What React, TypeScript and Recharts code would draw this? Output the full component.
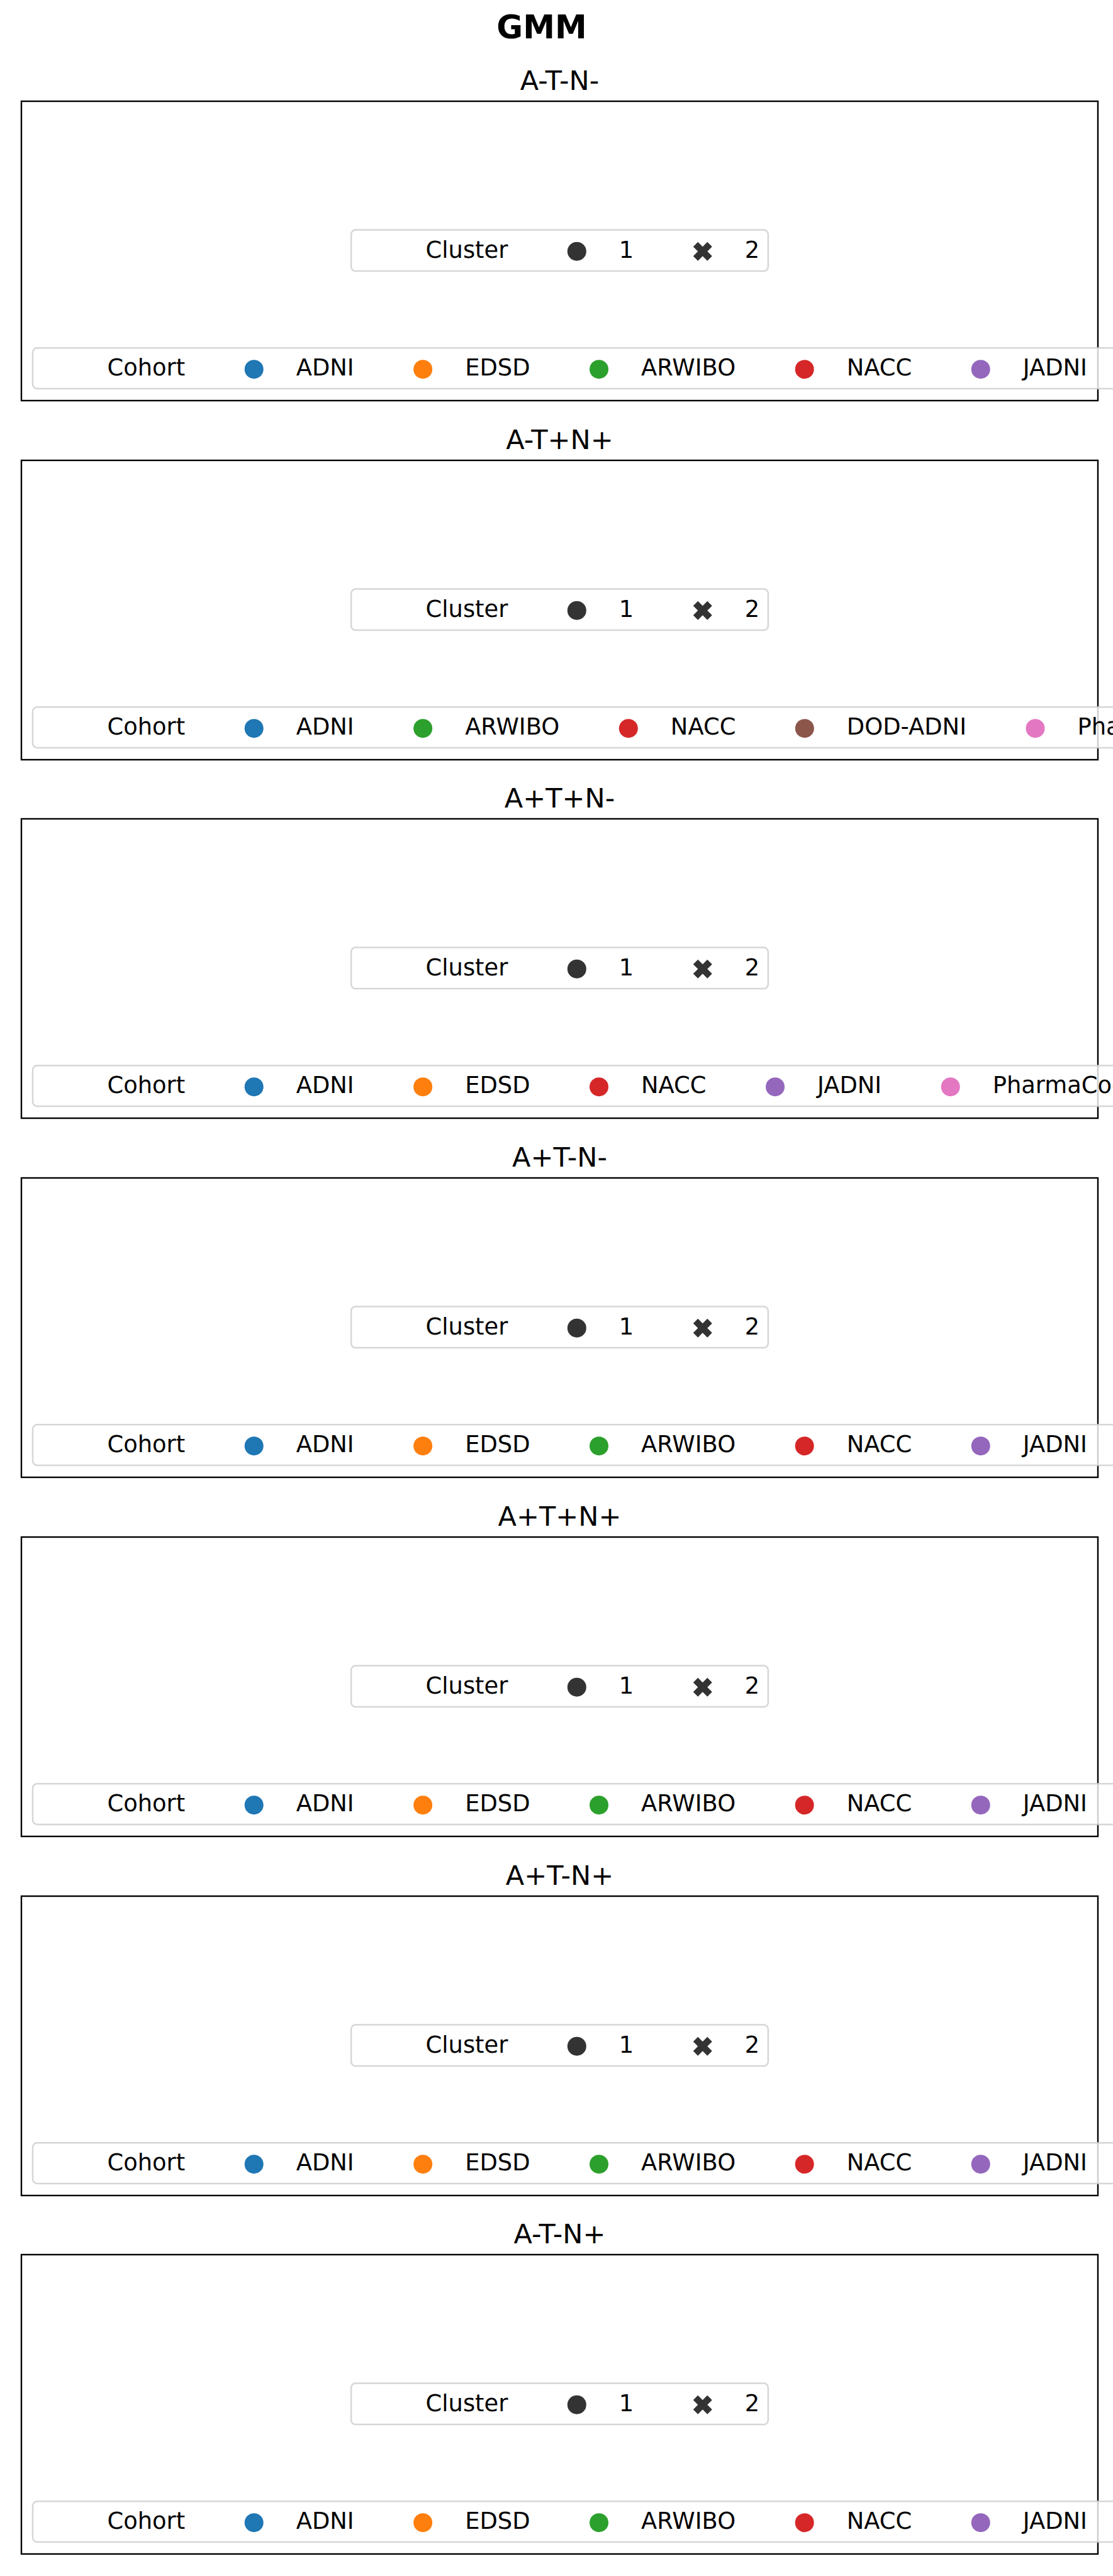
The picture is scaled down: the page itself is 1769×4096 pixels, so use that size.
import React from 'react'
import { ScatterChart, Scatter, XAxis, YAxis, Legend } from 'recharts'

// figure text
const FIG_TITLE = 'GMM'
const panelTitles = ['A-T-N-', 'A-T+N+', 'A+T+N-', 'A+T-N-', 'A+T+N+', 'A+T-N+', 'A-T-N+']

// cohorts shown in each panel legend, in legend order
const panelCohorts = [
  ['ADNI', 'EDSD', 'ARWIBO', 'NACC', 'JADNI'],
  ['ADNI', 'ARWIBO', 'NACC', 'DOD-ADNI', 'PharmaCog'],
  ['ADNI', 'EDSD', 'NACC', 'JADNI', 'PharmaCog'],
  ['ADNI', 'EDSD', 'ARWIBO', 'NACC', 'JADNI'],
  ['ADNI', 'EDSD', 'ARWIBO', 'NACC', 'JADNI'],
  ['ADNI', 'EDSD', 'ARWIBO', 'NACC', 'JADNI'],
  ['ADNI', 'EDSD', 'ARWIBO', 'NACC', 'JADNI'],
]

const cohortColors: Record<string, string> = {
  ADNI: '#1f77b4',
  EDSD: '#ff7f0e',
  ARWIBO: '#2ca02c',
  NACC: '#d62728',
  JADNI: '#9467bd',
  'DOD-ADNI': '#8c564b',
  PharmaCog: '#e377c2',
}

const clusterLabels = ['1', '2']
const clusterShapes = ['circle', 'x']

// the scatter panels are empty in the source figure
const noPoints: { x: number; y: number }[] = []

const W = 1769
const H = 4096
const FONT = '"DejaVu Sans", sans-serif'
const PITCH = 570.7
const CH = 571
const TOP0 = 91
const MARGIN = { top: 70, left: 34, right: 24, bottom: 25 }
const BOX_H = 476
const BOX_W = W - MARGIN.left - MARGIN.right
const CX = MARGIN.left + BOX_W / 2

const LEG_FS = 36.85
const PAD_L = 118.5
const GAP = 109.5
const HANDLE_TXT = 67
const PAD_R = 13.7
const MARK_R = 15

let ctx: CanvasRenderingContext2D | null = null
const textW = (s: string, size = LEG_FS) => {
  if (!ctx) ctx = document.createElement('canvas').getContext('2d')
  if (!ctx) return s.length * size * 0.6
  ctx.font = `${size}px "DejaVu Sans"`
  return ctx.measureText(s).width
}

const layoutLegend = (title: string, labels: string[], left: number) => {
  const titleX = left + PAD_L
  let end = titleX + textW(title)
  const items = labels.map((l) => {
    const mx = end + GAP
    const tx = mx + HANDLE_TXT
    end = tx + textW(l)
    return { mx, tx }
  })
  return { titleX, items, right: end + PAD_R }
}

const XMark = ({ cx, cy, s, fill }: { cx: number; cy: number; s: number; fill: string }) => {
  const pts = [[-1, -2], [0, -1], [1, -2], [2, -1], [1, 0], [2, 1], [1, 2], [0, 1], [-1, 2], [-2, 1], [-1, 0], [-2, -1]]
  const d = pts.map(([x, y], i) => `${i ? 'L' : 'M'}${cx + (x * s) / 4},${cy + (y * s) / 4}`).join('') + 'Z'
  return <path d={d} fill={fill} />
}

const frame = { fill: 'rgba(255,255,255,0.8)', stroke: 'rgba(204,204,204,0.8)', strokeWidth: 2.5 }

const PanelLegend = (props: any) => {
  const { payload, title, cohorts } = props
  const entries = (cohorts as string[]).map((c) => {
    const p = (payload || []).find((q: any) => q.value === c)
    return { label: c, color: (p && p.color) || cohortColors[c] }
  })

  // cluster legend, centred on the axes
  const cl0 = layoutLegend('Cluster', clusterLabels, 0)
  const clLeft = CX - cl0.right / 2
  const cl = layoutLegend('Cluster', clusterLabels, clLeft)
  const clTop = MARGIN.top + 204.6
  const clBot = MARGIN.top + 270.1
  const clMy = MARGIN.top + 238.7

  // cohort legend, anchored lower left, runs past the figure edge
  const coLeft = MARGIN.left + 18
  const co = layoutLegend('Cohort', entries.map((e) => e.label), coLeft)
  const coRight = Math.max(co.right, W + 30)
  const coTop = MARGIN.top + 392.3
  const coBot = MARGIN.top + 456.9
  const coMy = MARGIN.top + 426.2

  return (
    <svg width={W} height={CH} style={{ display: 'block', overflow: 'hidden' }} fontFamily={FONT}>
      <text x={CX} y={MARGIN.top - 18} textAnchor="middle" fontSize={43}>
        {title}
      </text>
      <rect x={MARGIN.left} y={MARGIN.top} width={BOX_W} height={BOX_H} fill="none" stroke="#000" strokeWidth={2.4} />

      <rect x={clLeft} y={clTop} width={cl.right - clLeft} height={clBot - clTop} rx={7} {...frame} />
      <text x={cl.titleX} y={clMy + 10} fontSize={LEG_FS}>Cluster</text>
      {clusterLabels.map((l, i) => (
        <g key={l}>
          {clusterShapes[i] === 'circle' ? (
            <circle cx={cl.items[i].mx} cy={clMy} r={MARK_R} fill="#333333" />
          ) : (
            <XMark cx={cl.items[i].mx} cy={clMy} s={MARK_R * 2} fill="#333333" />
          )}
          <text x={cl.items[i].tx} y={clMy + 10} fontSize={LEG_FS}>{l}</text>
        </g>
      ))}

      <rect x={coLeft} y={coTop} width={coRight - coLeft} height={coBot - coTop} rx={7} {...frame} />
      <text x={co.titleX} y={coMy + 10} fontSize={LEG_FS}>Cohort</text>
      {entries.map((e, i) => (
        <g key={e.label}>
          <circle cx={co.items[i].mx} cy={coMy} r={MARK_R} fill={e.color} />
          <text x={co.items[i].tx} y={coMy + 10} fontSize={LEG_FS}>{e.label}</text>
        </g>
      ))}
    </svg>
  )
}

const Panel = ({ idx }: { idx: number }) => (
  <ScatterChart width={W} height={CH} margin={MARGIN}>
    <XAxis xAxisId="b" type="number" dataKey="x" domain={[0, 1]} height={0} hide />
    <YAxis yAxisId="l" type="number" dataKey="y" domain={[0, 1]} width={0} hide />
    {panelCohorts[idx].map((c) => (
      <Scatter key={c} name={c} data={noPoints} fill={cohortColors[c]} xAxisId="b" yAxisId="l" isAnimationActive={false} />
    ))}
    <Legend
      content={(p: any) => <PanelLegend {...p} title={panelTitles[idx]} cohorts={panelCohorts[idx]} />}
      wrapperStyle={{ position: 'absolute', left: 0, top: 0, width: 0, height: 0, overflow: 'visible' }}
    />
  </ScatterChart>
)

export default function App() {
  return (
    <div style={{ position: 'absolute', left: 0, top: 0, width: W, height: H, background: '#fff', overflow: 'hidden' }}>
      <svg width={W} height={90} style={{ position: 'absolute', left: 0, top: 0 }}>
        <text x={861} y={61} textAnchor="middle" fontSize={51} fontWeight="bold" fontFamily={FONT}>
          {FIG_TITLE}
        </text>
      </svg>
      {panelTitles.map((t, i) => (
        <div key={t} style={{ position: 'absolute', left: 0, top: TOP0 + i * PITCH }}>
          <Panel idx={i} />
        </div>
      ))}
    </div>
  )
}
